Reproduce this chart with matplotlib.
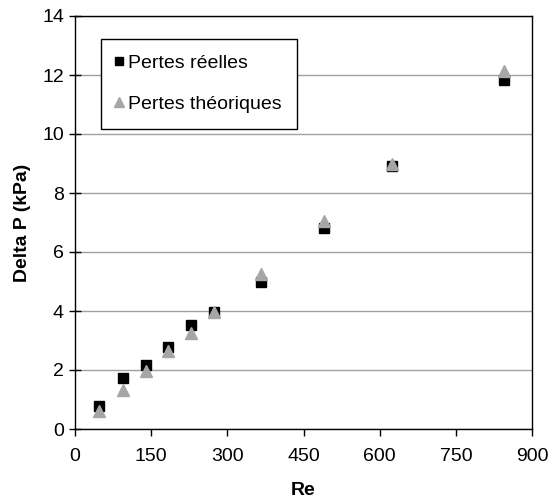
import matplotlib
matplotlib.use("Agg")
import matplotlib.pyplot as plt

# donnees
re_vals = [48, 94, 139, 184, 229, 274, 366, 491, 625, 844]
pertes_reelles = [0.78, 1.72, 2.17, 2.77, 3.53, 3.98, 4.98, 6.80, 8.92, 11.82]
pertes_theoriques = [0.62, 1.31, 1.96, 2.63, 3.27, 3.97, 5.27, 7.05, 9.00, 12.15]

plt.rcParams.update({
    "font.family": ["Liberation Sans", "DejaVu Sans"],
    "font.size": 14,
})

fig = plt.figure(figsize=(5.53, 5.01), dpi=100)
ax = fig.add_axes([75/553, 72/501, 457/553, 413/501])

ax.plot(re_vals, pertes_reelles, linestyle="none", marker="s", markersize=7.5,
        color="black", label="Pertes réelles", zorder=3)
ax.plot(re_vals, pertes_theoriques, linestyle="none", marker="^", markersize=8,
        color="#a6a6a6", label="Pertes théoriques", zorder=4)

ax.set_xlim(0, 900)
ax.set_ylim(0, 14)
ax.set_xticks(range(0, 901, 150))
ax.set_yticks(range(0, 15, 2))
ax.yaxis.grid(True, color="#a0a0a0", linewidth=1)
ax.set_axisbelow(True)
for s in ax.spines.values():
    s.set_color("black")
    s.set_linewidth(1)
ax.tick_params(axis="x", direction="out", length=5, width=1, pad=9,
               labelsize=14, colors="black")
ax.tick_params(axis="y", direction="inout", length=8, width=1, pad=4,
               labelsize=14, colors="black")

ax.set_xlabel("Re", fontsize=14, fontweight="bold", labelpad=12)
ax.set_ylabel("Delta P (kPa)", fontsize=14, fontweight="bold", labelpad=8)

leg = ax.legend(loc="upper left", bbox_to_anchor=(101/553, 1 - 39/501),
                bbox_transform=fig.transFigure, borderaxespad=0,
                fancybox=False, framealpha=1, edgecolor="black",
                handlelength=0.2, handletextpad=0.39, labelspacing=1.2,
                borderpad=0.8, fontsize=14, markerscale=0.85)
leg.get_frame().set_linewidth(1)

fig.savefig("out.png", dpi=100, facecolor="white")
